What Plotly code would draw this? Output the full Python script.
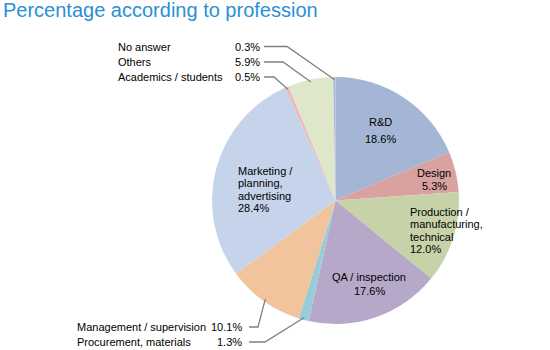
import math
import plotly.graph_objects as go

# ---- data ----
categories = ["R&D", "Design", "Production / manufacturing, technical", "QA / inspection",
              "Procurement, materials", "Management / supervision", "Marketing / planning, advertising",
              "Academics / students", "Others", "No answer"]
values = [18.6, 5.3, 12.0, 17.6, 1.3, 10.1, 28.4, 0.5, 5.9, 0.3]
colors = ["#A5B5D5", "#D9A1A0", "#C8D2A9", "#B5A8C8", "#98CCD8", "#F1C49D",
          "#C5D4EA", "#EBBABB", "#DEE7CA", "#A9B9D9"]

# inside label text lines (per category index)
inside_lines = {
    0: ["R&D", "18.6%"],
    1: ["Design", "5.3%"],
    2: ["Production /", "manufacturing,", "technical", "12.0%"],
    3: ["QA / inspection", "17.6%"],
    6: ["Marketing /", "planning,", "advertising", "28.4%"],
}
outside_names = {9: "No answer", 8: "Others", 7: "Academics / students",
                 5: "Management / supervision", 4: "Procurement, materials"}

# ---- layout (pixels) ----
W, H = 550, 350
CX, CY, R = 335.5, 200.5, 123.5
FONT = "Liberation Sans, Arial, sans-serif"

def px(x):
    return x / W

def py(y):
    return 1 - y / H

# inside label positions: (x, first line y, line spacing, xanchor)
inside_pos = {
    0: (380, 122, 16.5, "center"),
    1: (434, 172.5, 13, "center"),
    2: (408, 211.5, 12.5, "left"),
    3: (369, 277, 14, "center"),
    6: (236, 171, 12.4, "left"),
}
# outside label rows: idx -> (name_x, pct_right_x, line_y, elbow_x, line_start_x)
outside_pos = {
    9: (116, 262, 46.5, 287, 264),
    8: (116, 262, 62, 283, 264),
    7: (116, 262, 77, 274, 264),
    5: (75, 244, 327, 258, 249),
    4: (75, 244, 342, 265, 249),
}

fig = go.Figure(go.Pie(
    labels=categories, values=values, sort=False, direction="clockwise", rotation=0,
    marker=dict(colors=colors, line=dict(width=0)),
    textinfo="none", hoverinfo="label+percent", showlegend=False,
    domain=dict(x=[px(CX - R), px(CX + R)], y=[py(CY + R), py(CY - R)]),
))

annotations = []
shapes = []

annotations.append(dict(text="Percentage according to profession", x=px(1), y=py(-3),
                        xref="paper", yref="paper", xanchor="left", yanchor="top",
                        showarrow=False, font=dict(family=FONT, size=20, color="#2B8FD6")))

for i, lines in inside_lines.items():
    x, y0, sp, xa = inside_pos[i]
    for k, line in enumerate(lines):
        annotations.append(dict(text=line, x=px(x), y=py(y0 + k * sp), xref="paper", yref="paper",
                                xanchor=xa, yanchor="middle", showarrow=False,
                                font=dict(family=FONT, size=11, color="#000000")))

total = sum(values)
cum = 0.0
mids = []
for v in values:
    mids.append((cum + v / 2) / total)
    cum += v

for i, name in outside_names.items():
    nx, pr, ly, ex, sx = outside_pos[i]
    annotations.append(dict(text=name, x=px(nx), y=py(ly), xref="paper", yref="paper",
                            xanchor="left", yanchor="middle", showarrow=False,
                            font=dict(family=FONT, size=11, color="#000000")))
    annotations.append(dict(text=f"{values[i]:.1f}%", x=px(pr), y=py(ly), xref="paper", yref="paper",
                            xanchor="right", yanchor="middle", showarrow=False,
                            font=dict(family=FONT, size=11, color="#000000")))
    ang = 2 * math.pi * mids[i]
    tx = CX + 0.98 * R * math.sin(ang)
    ty = CY - 0.98 * R * math.cos(ang)
    path = f"M {px(sx)},{py(ly)} L {px(ex)},{py(ly)} L {px(tx)},{py(ty)}"
    shapes.append(dict(type="path", path=path, xref="paper", yref="paper",
                       line=dict(color="#808080", width=1.3)))

fig.update_layout(width=W, height=H, margin=dict(l=0, r=0, t=0, b=0),
                  paper_bgcolor="white", plot_bgcolor="white",
                  annotations=annotations, shapes=shapes)

fig.write_html("out.html")
